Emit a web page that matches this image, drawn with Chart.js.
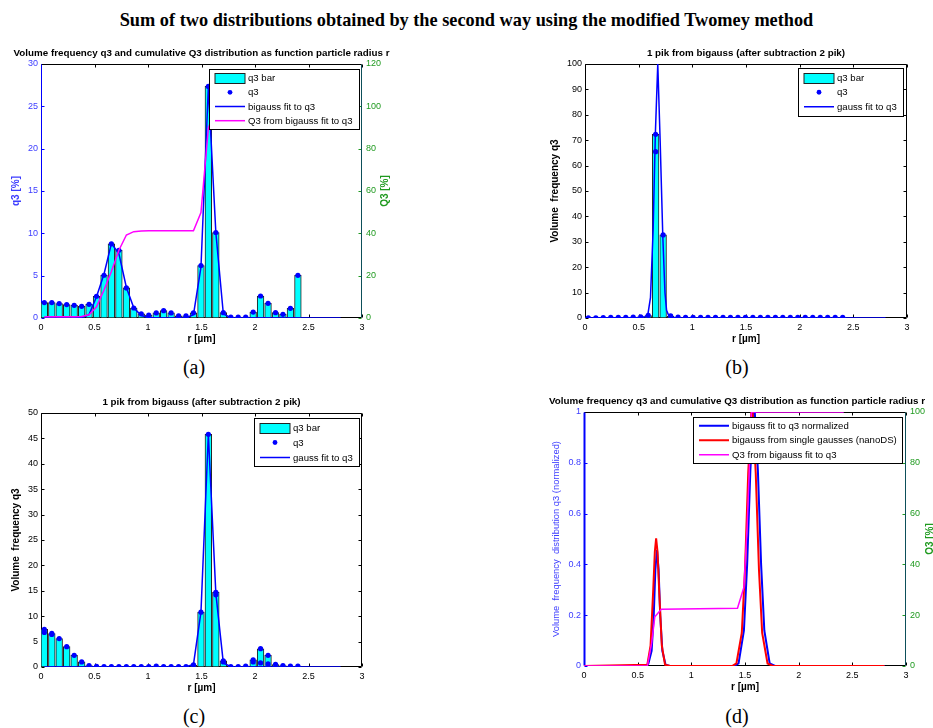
<!DOCTYPE html>
<html>
<head>
<meta charset="utf-8">
<script src="https://cdn.jsdelivr.net/npm/chart.js@4.4.0/dist/chart.umd.min.js"></script>
<style>
body { margin: 0; background: #fff; }
#page { position: relative; width: 933px; height: 728px; overflow: hidden; background: #fff; }
#page canvas { position: absolute; }
.title { position: absolute; left: 0; top: 9px; width: 933px; text-align: center;
         font: bold 18.3px "Liberation Serif", "Times New Roman", serif; line-height: 22px; }
.lab { position: absolute; width: 40px; text-align: center;
       font: 20px "Liberation Serif", "Times New Roman", serif; line-height: 20px; }
</style>
</head>
<body>
<div id="page">
  <div class="title">Sum of two distributions obtained by the second way using the modified Twomey method</div>
  <canvas id="ca" width="400" height="301" style="left:0;top:44px"></canvas>
  <canvas id="cb" width="388" height="301" style="left:545px;top:44px"></canvas>
  <canvas id="cc" width="400" height="301" style="left:0;top:393px"></canvas>
  <canvas id="cd" width="388" height="301" style="left:545px;top:392px"></canvas>
  <div class="lab" style="left:174px;top:357px">(a)</div>
  <div class="lab" style="left:717px;top:357px">(b)</div>
  <div class="lab" style="left:174px;top:706px">(c)</div>
  <div class="lab" style="left:717px;top:706px">(d)</div>
</div>
<script>
// radius bins [µm]
const rBins = [0.031, 0.101, 0.170, 0.240, 0.310, 0.380, 0.449, 0.519, 0.589, 0.658,
               0.728, 0.798, 0.867, 0.937, 1.007, 1.077, 1.146, 1.216, 1.286, 1.355,
               1.425, 1.495, 1.564, 1.634, 1.704, 1.774, 1.843, 1.913, 1.983, 2.052,
               2.122, 2.192, 2.261, 2.331, 2.401]
const fitTail = [2.47, 2.54, 2.61, 2.68, 2.75, 2.80]
const fitR = rBins.concat(fitTail)

// (a) measured q3 [%], bigauss fit and cumulative Q3 [%]
const q3A = [1.82, 1.82, 1.70, 1.58, 1.50, 1.38, 1.62, 2.57, 5.05, 8.76,
             8.00, 3.55, 1.18, 0.50, 0.35, 0.60, 0.87, 0.60, 0.25, 0.25,
             0.62, 6.20, 27.35, 10.10, 0.63, 0.12, 0.12, 0.12, 0.70, 2.60,
             1.73, 0.63, 0.43, 1.14, 5.04]
const fitA = [0, 0, 0, 0, 0, 0.05, 0.4, 2.5, 5.2, 8.8,
              7.6, 3.6, 1.2, 0.3, 0.05, 0, 0, 0, 0, 0,
              0.4, 6.0, 27.3, 10.1, 0.5, 0, 0, 0, 0, 0,
              0, 0, 0, 0, 0, 0, 0, 0, 0, 0, 0]
const cumA = [0.6, 0.6, 0.6, 0.6, 0.6, 0.7, 1.5, 5.3, 13.2, 22,
              32, 39.2, 40.8, 41.1, 41.2, 41.2, 41.2, 41.2, 41.2, 41.2,
              41.2, 49.8, 89.7, 100, 100, 100, 100, 100, 100, 100,
              100, 100, 100, 100, 100, 100, 100, 100, 100, 100, 100]

// (b) first peak
const q3B = [0.1, 0.1, 0.2, 0.3, 0.3, 0.3, 0.4, 0.5, 1.0, 72.3,
             32.7, 0.8, 0.4, 0.3, 0.3, 0.3, 0.3, 0.3, 0.3, 0.3,
             0.3, 0.3, 0.3, 0.3, 0.3, 0.3, 0.3, 0.3, 0.3, 0.3,
             0.3, 0.3, 0.3, 0.3, 0.3]
const extraDotRB = [0.658]
const extraDotB = [65.5]
const fitBR = [0, 0.52, 0.56, 0.585, 0.61, 0.635, 0.655, 0.678, 0.70, 0.725, 0.745, 0.76, 0.78, 0.80, 0.85, 2.80]
const fitB = [0, 0.2, 0.5, 1.2, 8, 35, 72, 100, 70, 32, 10, 3, 1, 0.4, 0, 0]

// (c) second peak
const q3C = [7.4, 6.6, 5.6, 4.0, 2.3, 1.0, 0.3, 0.15, 0.1, 0.1,
             0.1, 0.1, 0.1, 0.1, 0.1, 0.2, 0.1, 0.1, 0.1, 0.1,
             0.4, 10.8, 45.8, 14.7, 1.2, 0.1, 0.1, 0.2, 1.4, 3.6,
             2.3, 0.5, 0.3, 0.2, 0.2]
const extraDotRC = [0.031, 0.101, 1.634, 1.704, 1.983, 2.052, 2.122]
const extraDotC = [6.8, 6.4, 14.2, 1.0, 1.0, 0.8, 0.6]
const fitC = [0, 0, 0, 0, 0, 0, 0, 0, 0, 0,
              0, 0, 0, 0, 0, 0, 0, 0, 0, 0.05,
              0.5, 10.8, 45.8, 14.5, 0.8, 0.05, 0, 0, 0, 0,
              0, 0, 0, 0, 0, 0, 0, 0, 0, 0, 0]

// (d) normalized curves and Q3 [%]
const normR = [0, 0.58, 0.60, 0.63, 0.65, 0.665, 0.68, 0.695, 0.71, 0.73, 0.76, 0.80,
               1.40, 1.44, 1.49, 1.52, 1.55, 1.585, 1.62, 1.65, 1.68, 1.73, 1.78, 2.80]
const normFit = [0, 0, 0.01, 0.06, 0.2, 0.38, 0.457, 0.38, 0.2, 0.06, 0.005, 0,
                 0, 0.01, 0.14, 0.4, 0.77, 1.05, 0.77, 0.4, 0.14, 0.01, 0, 0]
const nanoR = [0, 0.59, 0.62, 0.645, 0.66, 0.672, 0.685, 0.70, 0.725, 0.755, 0.80,
               1.38, 1.42, 1.47, 1.50, 1.53, 1.565, 1.60, 1.63, 1.66, 1.71, 1.76, 2.80]
const nanoFit = [0, 0.005, 0.08, 0.3, 0.45, 0.503, 0.45, 0.3, 0.08, 0.005, 0,
                 0, 0.01, 0.13, 0.38, 0.76, 1.05, 0.76, 0.38, 0.13, 0.01, 0, 0]
const cumDR = [0, 0.59, 0.63, 0.66, 0.72, 1.43, 1.49, 1.52, 1.56, 1.60, 2.42]
const cumD = [0, 0, 9, 19.4, 22.3, 22.7, 31, 55, 100, 100, 100]

const BLUE = '#0000ff', CYAN = '#00ffff', MAG = '#ff00ff', RED = '#ff0000'
const TBLUE = '#3c3cff', TGREEN = '#1f9a1f', TEAL = '#0d4f5a'
const SANS = '"Liberation Sans", Arial, Helvetica, sans-serif'

Chart.defaults.font.family = SANS
Chart.defaults.font.size = 9
Chart.defaults.color = '#000'

const pts = (xs, ys) => xs.map((x, i) => ({ x, y: ys[i] }))
const plain = v => String(+v.toFixed(3))   // 1 not 1.0, like MATLAB

const barSet = ys => ({
    type: 'bar', data: pts(rBins, ys), backgroundColor: CYAN, borderColor: '#222',
    borderWidth: 1, borderSkipped: false, barThickness: 6.7,
    yAxisID: 'y', order: 3
})
const dotSet = pts_ => ({
    type: 'line', data: pts_, showLine: false, pointRadius: 2.6,
    pointBackgroundColor: BLUE, pointBorderWidth: 0, yAxisID: 'y', order: 1
})
const lineSet = (xs, ys, color, width, axis, order) => ({
    type: 'line', data: pts(xs, ys), borderColor: color, borderWidth: width,
    pointRadius: 0, fill: false, tension: 0, yAxisID: axis, order
})

const xScale = () => ({
    type: 'linear', min: 0, max: 3, offset: false,
    grid: { display: false, drawTicks: false }, border: { display: false },
    ticks: { stepSize: 0.5, padding: 4, maxRotation: 0, autoSkip: false, color: '#000', callback: plain },
    title: { display: true, text: 'r [µm]', font: { size: 10, weight: 'bold' }, color: '#000', padding: 0 },
    afterFit: s => { s.height = 27 }
})
const yScale = (max, step, color, title, bold, size, pad, width) => ({
    type: 'linear', position: 'left', min: 0, max,
    grid: { display: false, drawTicks: false }, border: { display: false },
    ticks: { stepSize: step, padding: 3, color, autoSkip: false, callback: plain },
    title: { display: true, text: title, color, font: { size, weight: bold ? 'bold' : 'normal' }, padding: { top: pad, bottom: 0 } },
    afterFit: s => { s.width = width }
})
const y1Scale = (max, width) => ({
    type: 'linear', position: 'right', min: 0, max,
    grid: { display: false, drawTicks: false }, border: { display: false },
    ticks: { stepSize: 20, padding: 4, color: TGREEN, autoSkip: false, callback: plain },
    afterFit: s => { s.width = width }
})

// box and inward ticks under the data, titles on top, MATLAB style
const matlabAxes = {
    id: 'matlabAxes',
    beforeDatasetsDraw(chart, args, o) {
        const { ctx, chartArea: a, scales } = chart
        const L = Math.round(a.left) + 0.5, R = Math.round(a.right) - 0.5
        const T = Math.round(a.top) + 0.5, B = Math.round(a.bottom) - 0.5
        const seg = (x1, y1, x2, y2, c, w) => {
            ctx.strokeStyle = c; ctx.lineWidth = w || 1
            ctx.beginPath(); ctx.moveTo(x1, y1); ctx.lineTo(x2, y2); ctx.stroke()
        }
        ctx.save()
        scales.x.ticks.forEach(t => {
            const px = Math.round(scales.x.getPixelForValue(t.value)) + 0.5
            seg(px, B, px, B - 3, '#000'); seg(px, T, px, T + 3, '#000')
        })
        scales.y.ticks.forEach(t => {
            const py = Math.round(scales.y.getPixelForValue(t.value)) + 0.5
            seg(L, py, L + 3, py, o.leftColor)
            if (!scales.y1) seg(R, py, R - 3, py, o.rightColor)
        })
        if (scales.y1) scales.y1.ticks.forEach(t => {
            const py = Math.round(scales.y1.getPixelForValue(t.value)) + 0.5
            seg(R, py, R - 3, py, TGREEN)
        })
        seg(L, T, R, T, '#000'); seg(L, B, R, B, '#000')
        seg(L, T, L, B, o.leftColor, o.leftWidth)
        seg(R, T, R, B, o.rightColor)
        ctx.restore()
    },
    afterDraw(chart, args, o) {
        const { ctx, chartArea: a } = chart
        ctx.save()
        ctx.fillStyle = '#000'
        ctx.font = 'bold 9.8px ' + SANS
        ctx.textAlign = 'center'; ctx.textBaseline = 'middle'
        ctx.fillText(o.title, (a.left + a.right) / 2 + (o.titleDx || 0), 9.5)
        if (o.rightTitle) {
            ctx.font = 'bold 10px ' + SANS
            ctx.translate(o.rightTitleX, (a.top + a.bottom) / 2)
            ctx.rotate(-Math.PI / 2)
            ctx.fillStyle = TGREEN
            ctx.fillText(o.rightTitle, 0, 0)
        }
        ctx.restore()
    }
}

const legendBox = {
    id: 'legendBox',
    afterDraw(chart, args, o) {
        const { ctx, chartArea: a } = chart
        const items = o.items
        const x0 = Math.round(a.right - o.right - o.width) + 0.5
        const y0 = Math.round(a.top + o.top) + 0.5
        const h = Math.round(items.length * o.row + o.pad * 2)
        ctx.save()
        ctx.fillStyle = '#fff'; ctx.fillRect(x0, y0, o.width, h)
        ctx.strokeStyle = '#000'; ctx.lineWidth = 1; ctx.strokeRect(x0, y0, o.width, h)
        ctx.font = '9.6px ' + SANS
        ctx.textBaseline = 'middle'; ctx.textAlign = 'left'
        items.forEach((it, i) => {
            const cy = y0 + o.pad + o.row * (i + 0.5)
            const sx = x0 + 5.5, ex = x0 + 35.5
            if (it.kind === 'bar') {
                ctx.fillStyle = CYAN; ctx.fillRect(sx, Math.round(cy - 5) + 0.5, ex - sx, 10)
                ctx.strokeStyle = '#222'; ctx.lineWidth = 1; ctx.strokeRect(sx, Math.round(cy - 5) + 0.5, ex - sx, 10)
            } else if (it.kind === 'dot') {
                ctx.fillStyle = BLUE; ctx.beginPath(); ctx.arc((sx + ex) / 2, cy, 2.4, 0, Math.PI * 2); ctx.fill()
            } else {
                ctx.strokeStyle = it.color; ctx.lineWidth = it.width || 1.5
                ctx.beginPath(); ctx.moveTo(sx, cy); ctx.lineTo(ex, cy); ctx.stroke()
            }
            ctx.fillStyle = '#000'
            ctx.fillText(it.label, ex + 3, cy + 0.5)
        })
        ctx.restore()
    }
}

function panel(id, datasets, scales, padRight, axes, legend) {
    new Chart(document.getElementById(id), {
        type: 'bar',
        data: { datasets },
        options: {
            responsive: false, animation: false, devicePixelRatio: 1,
            layout: { padding: { top: 20, left: 0, right: padRight, bottom: 0 } },
            scales,
            plugins: { legend: { display: false }, tooltip: { enabled: false },
                       matlabAxes: axes, legendBox: legend }
        },
        plugins: [matlabAxes, legendBox]
    })
}

const PANEL_TITLE = 'Volume frequency q3 and cumulative Q3 distribution as function particle radius r'
const PIK_TITLE = '1 pik from bigauss (after subtraction 2 pik)'

// (a)
panel('ca', [
    barSet(q3A),
    dotSet(pts(rBins, q3A)),
    lineSet(fitR, fitA, BLUE, 1.5, 'y', 2),
    lineSet(fitR, cumA, MAG, 1.5, 'y1', 0)
], { x: xScale(), y: yScale(30, 5, TBLUE, 'q3 [%]', true, 10, 10, 41), y1: y1Scale(120, 38) }, 0,
{ title: PANEL_TITLE, leftColor: BLUE, leftWidth: 1, rightColor: TEAL, rightTitle: 'Q3 [%]', rightTitleX: 385 },
{ right: 3, top: 5, width: 150, row: 14.2, pad: 1.5, items: [
    { kind: 'bar', label: 'q3 bar' }, { kind: 'dot', label: 'q3' },
    { kind: 'line', color: BLUE, label: 'bigauss fit to q3' },
    { kind: 'line', color: MAG, label: 'Q3 from bigauss fit to q3' }] })

// (b)
panel('cb', [
    barSet(q3B),
    dotSet(pts(rBins, q3B).concat(pts(extraDotRB, extraDotB))),
    lineSet(fitBR, fitB, BLUE, 1.5, 'y', 2)
], { x: xScale(), y: yScale(100, 10, '#000', 'Volume  frequency q3', true, 10, 4, 40) }, 26,
{ title: PIK_TITLE, leftColor: '#000', leftWidth: 1, rightColor: '#000' },
{ right: 4, top: 4, width: 105, row: 14.5, pad: 2, items: [
    { kind: 'bar', label: 'q3 bar' }, { kind: 'dot', label: 'q3' },
    { kind: 'line', color: BLUE, label: 'gauss fit to q3' }] })

// (c)
panel('cc', [
    barSet(q3C),
    dotSet(pts(rBins, q3C).concat(pts(extraDotRC, extraDotC))),
    lineSet(fitR, fitC, BLUE, 1.5, 'y', 2)
], { x: xScale(), y: yScale(50, 5, '#000', 'Volume  frequency q3', true, 10, 10.7, 41) }, 38,
{ title: PIK_TITLE, leftColor: '#000', leftWidth: 1, rightColor: '#000' },
{ right: 3, top: 5, width: 105, row: 15, pad: 1.5, items: [
    { kind: 'bar', label: 'q3 bar' }, { kind: 'dot', label: 'q3' },
    { kind: 'line', color: BLUE, label: 'gauss fit to q3' }] })

// (d)
panel('cd', [
    lineSet(normR, normFit, BLUE, 2, 'y', 2),
    lineSet(nanoR, nanoFit, RED, 2, 'y', 1),
    lineSet(cumDR, cumD, MAG, 1.5, 'y1', 0)
], { x: xScale(), y: yScale(1, 0.2, TBLUE, 'Volume  frequency  distribution q3 (normalized)', false, 9.4, 6, 39), y1: y1Scale(100, 27) }, 0,
{ title: PANEL_TITLE, titleDx: -8, leftColor: BLUE, leftWidth: 2, rightColor: TEAL, rightTitle: 'Q3 [%]', rightTitleX: 385 },
{ right: 4, top: 4.5, width: 209, row: 14.5, pad: 1, items: [
    { kind: 'line', color: BLUE, width: 2, label: 'bigauss fit to q3 normalized' },
    { kind: 'line', color: RED, width: 2, label: 'bigauss from single gausses (nanoDS)' },
    { kind: 'line', color: MAG, width: 1.5, label: 'Q3 from bigauss fit to q3' }] })
</script>
</body>
</html>
